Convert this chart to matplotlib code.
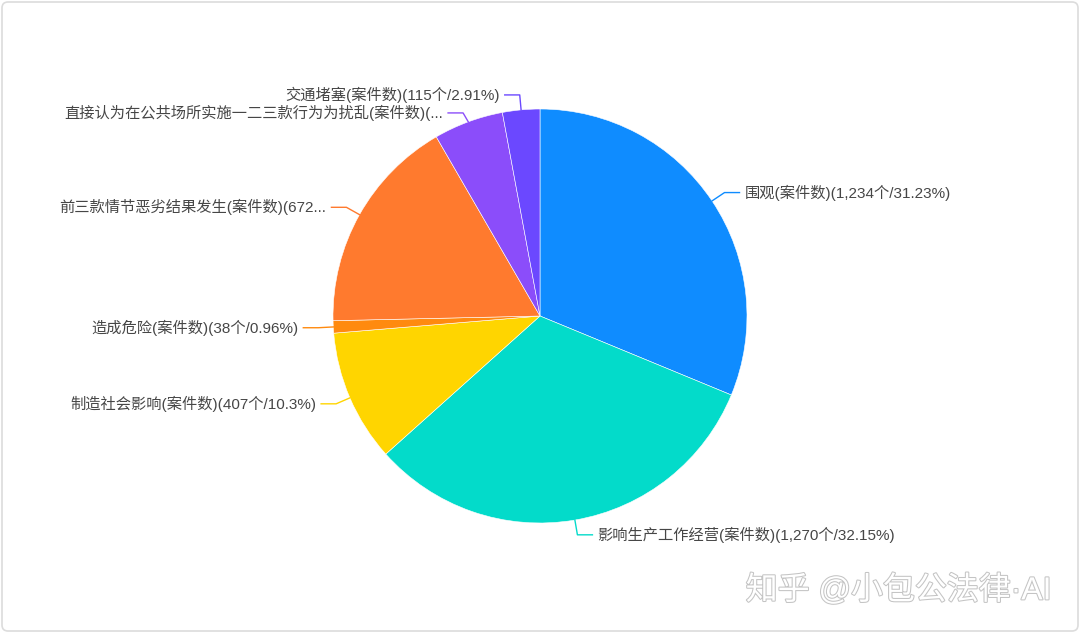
import numpy as np
import matplotlib
matplotlib.use("Agg")
import matplotlib.pyplot as plt
from matplotlib.patches import FancyBboxPatch
import matplotlib.patheffects as pe

plt.rcParams['font.family'] = ['Liberation Sans', 'Noto Sans CJK SC', 'DejaVu Sans']

# 数据
names = ["围观", "影响生产工作经营", "制造社会影响", "造成危险",
         "前三款情节恶劣结果发生", "直接认为在公共场所实施一二三款行为为扰乱", "交通堵塞"]
counts = [1234, 1270, 407, 38, 672, 215, 115]
pcts = [31.23, 32.15, 10.3, 0.96, 17.01, 5.44, 2.91]
colors = ["#0F8CFF", "#03DBCA", "#FFD500", "#FF8A0F", "#FF7A2E", "#8B4DFA", "#6B48FF"]
# 过长标签截断(字符数)
trunc = [None, None, None, None, 20, 26, None]

W, H = 1080, 633
cx, cy, R = 540, 316, 207   # 像素坐标, y 向下

fig = plt.figure(figsize=(W / 100, H / 100), dpi=100)
ax = fig.add_axes([0, 0, 1, 1])

def Y(y):
    return H - y

ax.pie(counts, colors=colors, startangle=90, counterclock=False,
       center=(cx, Y(cy)), radius=R,
       wedgeprops=dict(edgecolor='white', linewidth=0.4))
# pie 会重设坐标范围, 之后再设
ax.set_xlim(0, W)
ax.set_ylim(0, H)
ax.set_aspect('equal')
ax.axis('off')

# 标签
labels = []
for n, c, p, t in zip(names, counts, pcts, trunc):
    s = f"{n}(案件数)({c:,}个/{p:g}%)"
    if t is not None:
        s = s[:t] + "..."
    labels.append(s)

total = sum(counts)
cum = np.cumsum([0] + counts)
items = []
for i in range(len(counts)):
    mid = (cum[i] + cum[i + 1]) / 2 / total
    ang = np.deg2rad(90 - 360 * mid)
    x0 = cx + R * np.cos(ang)
    y0 = cy - R * np.sin(ang)
    ex = cx + (R + 15) * np.cos(ang)
    ey = cy - (R + 15) * np.sin(ang)
    side = 1 if np.cos(ang) >= 0 else -1
    items.append(dict(i=i, x0=x0, y0=y0, ex=ex, ey=ey, side=side))

# 同侧标签防重叠
gap = 18
for side in (1, -1):
    grp = sorted([it for it in items if it['side'] == side], key=lambda d: d['ey'])
    for a, b in zip(grp, grp[1:]):
        if b['ey'] - a['ey'] < gap:
            b['ey'] = a['ey'] + gap

for it in items:
    i, side = it['i'], it['side']
    lx = it['ex'] + side * 15
    ax.plot([it['x0'], it['ex'], lx], [Y(it['y0']), Y(it['ey']), Y(it['ey'])],
            color=colors[i], lw=1)
    ax.text(lx + side * 5, Y(it['ey']), labels[i], fontsize=11, color='#464646',
            ha='left' if side > 0 else 'right', va='center')

# 外框
ax.add_patch(FancyBboxPatch((2, 2), W - 4, H - 4,
                            boxstyle="round,pad=0,rounding_size=6",
                            fc='none', ec='#dcdcdc', lw=1.2))

# 水印
ax.text(1052, Y(591), "知乎 @小包公法律·AI", fontsize=23, color='white',
        ha='right', va='center',
        path_effects=[pe.withStroke(linewidth=1.5, foreground='#c4c4c4')])

fig.savefig("out.png", dpi=100, facecolor='white')
